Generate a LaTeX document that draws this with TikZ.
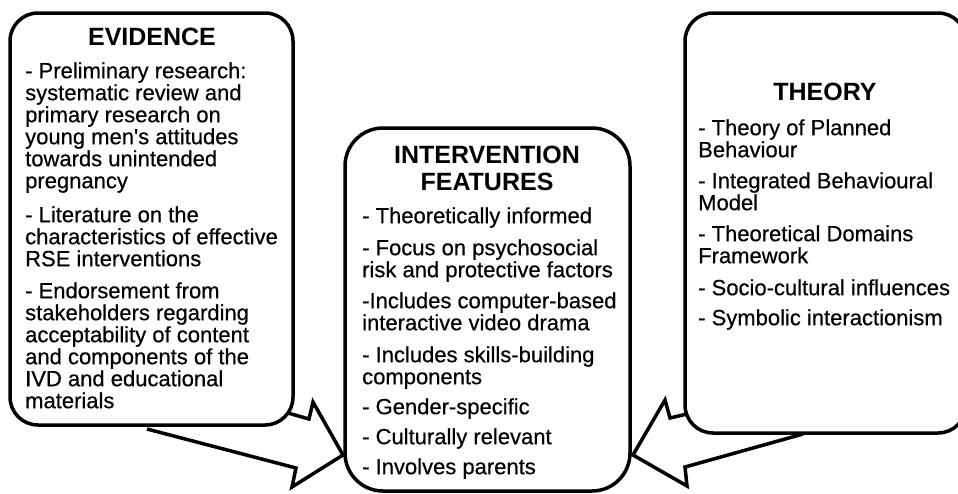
\documentclass[tikz,border=0pt]{standalone}
\usepackage{fontspec}
\setmainfont{Liberation Sans}[Ligatures=TeXOff]
\newfontfamily\pointsfont{Liberation Sans}[Ligatures=TeXOff, FakeBold=0.5]

\begin{document}
\begin{tikzpicture}[x=1pt, y=-1pt,
  panel/.style={draw=black, line width=3.5pt},
  blockarrow/.style={draw=black, line width=3.5pt, line join=miter},
  heading/.style={font=\fontsize{25}{27}\selectfont\bfseries, inner sep=0pt},
  points/.style={font=\pointsfont\fontsize{22}{22}\selectfont, align=left, inner sep=0pt, anchor=north west}]

\useasboundingbox (0,0) rectangle (958,493);

\def\ytop{13}; % top of side boxes

\def\xel{10}; % evidence left
\def\xer{293}; % evidence right
\def\yeb{425}; % evidence bottom

\def\xil{345};
\def\xir{630};
\def\yit{128};
\def\yib{491};

\def\xtl{685};
\def\xtr{966};
\def\ytb{433};

% boxes
\draw[panel, rounded corners=28pt] (\xel, \ytop) rectangle (\xer, \yeb);
\draw[panel, rounded corners=38pt] (\xil, \yit) rectangle (\xir, \yib);
\draw[panel, rounded corners=28pt] (\xtl, \ytop) rectangle (\xtr, \ytb);

% block arrows into the middle box
\draw[blockarrow] (288, 413) -- (309, 419) -- (313, 402) -- (343, 455)
  -- (292, 487) -- (296, 468) -- (147, 429);
\draw[blockarrow] (687, 414) -- (670, 418) -- (665, 400) -- (633, 455)
  -- (687, 486) -- (685, 467) -- (803, 434);

% evidence
\node[heading, anchor=base] (evtitle) at (152, 45) {EVIDENCE};
\node[points] (evtext) at (25, 60) {\rule{0pt}{18pt}- Preliminary research:\\
  systematic review and\\
  primary research on\\
  young men's attitudes\\
  towards unintended\\
  pregnancy\\[12pt]
  - Literature on the\\
  characteristics of effective\\
  RSE interventions\\[10pt]
  - Endorsement from\\
  stakeholders regarding\\
  acceptability of content\\
  and components of the\\
  IVD and educational\\
  materials};

% intervention features
\node[heading, align=center, anchor=north] (ivtitle) at (487, 145) {\rule{0pt}{18pt}INTERVENTION\\ FEATURES};
\node[points] (ivtext) at (362, 205) {\rule{0pt}{18pt}- Theoretically informed\\[10pt]
  - Focus on psychosocial\\
  risk and protective factors\\[9pt]
  -Includes computer-based\\
  interactive video drama\\[10pt]
  - Includes skills-building\\
  components\\[8pt]
  - Gender-specific\\[8pt]
  - Culturally relevant\\[8pt]
  - Involves parents};

% theory
\node[heading, anchor=base] (thtitle) at (825, 100) {THEORY};
\node[points] (thtext) at (698, 117) {\rule{0pt}{18pt}- Theory of Planned\\
  Behaviour\\[9pt]
  - Integrated Behavioural\\
  Model\\[9pt]
  - Theoretical Domains\\
  Framework\\[10pt]
  - Socio-cultural influences\\[8pt]
  - Symbolic interactionism};

\end{tikzpicture}
\end{document}
